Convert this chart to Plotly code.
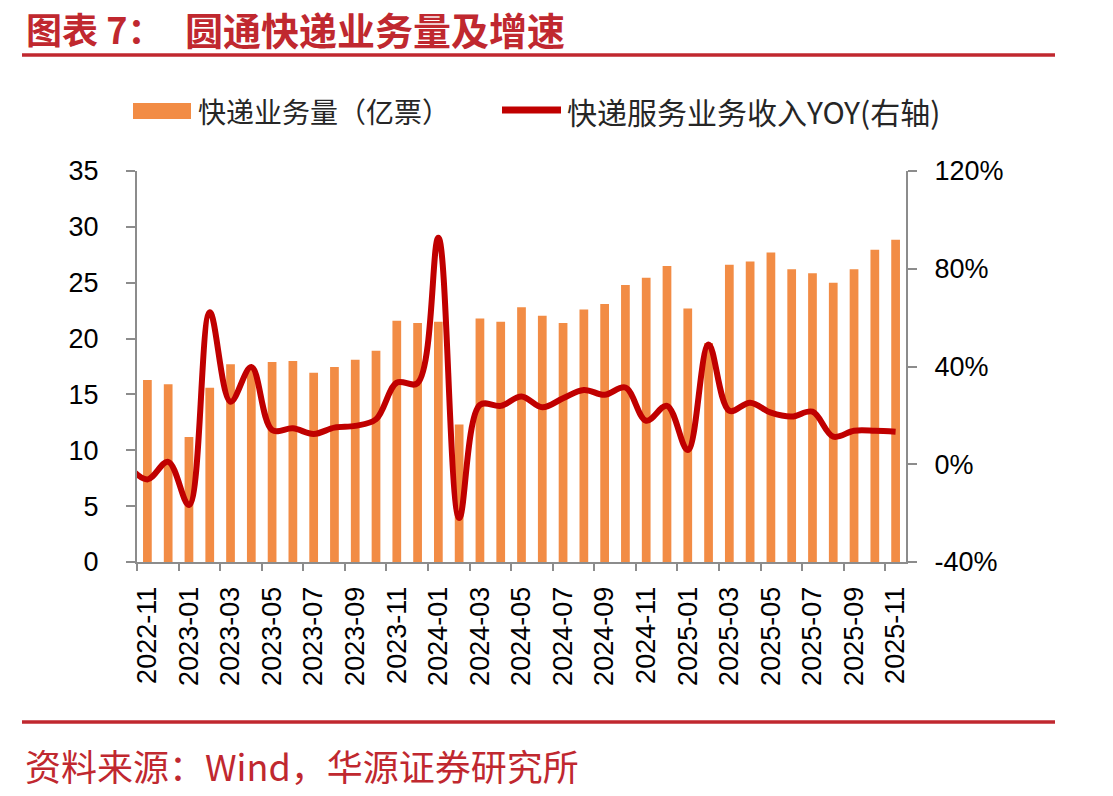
import plotly.graph_objects as go

months = ["2022-11", "2022-12",
          "2023-01", "2023-02", "2023-03", "2023-04", "2023-05", "2023-06",
          "2023-07", "2023-08", "2023-09", "2023-10", "2023-11", "2023-12",
          "2024-01", "2024-02", "2024-03", "2024-04", "2024-05", "2024-06",
          "2024-07", "2024-08", "2024-09", "2024-10", "2024-11", "2024-12",
          "2025-01", "2025-02", "2025-03", "2025-04", "2025-05", "2025-06",
          "2025-07", "2025-08", "2025-09", "2025-10", "2025-11"]

volume = [16.3, 15.9, 11.2, 15.6, 17.7, 17.4, 17.9, 18.0, 16.95, 17.45, 18.1, 18.9,
          21.6, 21.4, 21.5, 12.3, 21.8, 21.5, 22.8, 22.05, 21.4, 22.6, 23.1, 24.8,
          25.45, 26.5, 22.7, 19.6, 26.6, 26.9, 27.7, 26.2, 25.85, 25.0, 26.2, 27.95, 28.85]

# YoY (%) starts one month earlier (2022-10); that point is clipped by the plot area
yoy_prev = 0.0
yoy = [-6.2, 1.0, -16.7, 62.2, 25.6, 39.8, 14.0, 14.7, 12.4, 15.0, 15.7, 18.4,
       33.4, 33.2, 92.7, -22.0, 24.3, 23.9, 27.7, 23.3, 27.0, 30.4, 28.4, 31.4,
       17.8, 23.9, 5.8, 49.0, 21.9, 25.2, 21.1, 19.5, 21.5, 11.3, 13.7, 13.7, 13.3]

tick_labels = months[::2]

title_a = "图表 7："
title_b = "圆通快递业务量及增速"
legend_bar = "快递业务量（亿票）"
legend_line = "快递服务业务收入YOY(右轴)"
source = "资料来源：Wind，华源证券研究所"

W, H = 1113, 796
L, R, T, B = 137, 906, 171, 562
RED = "#C0282F"
GRAY = "#8C8C8C"
BAR = "#F28C45"
LINE = "#C00000"

def px(x):
    return (x - L) / (R - L)

def py(y):
    return (B - y) / (B - T)

idx = list(range(len(months)))

fig = go.Figure()
fig.add_trace(go.Bar(x=idx, y=volume, width=0.42, marker=dict(color=BAR, line=dict(width=0)),
                     name=legend_bar, showlegend=False))
fig.add_trace(go.Scatter(x=[-1] + idx, y=[yoy_prev] + yoy, yaxis="y2", mode="lines",
                         line=dict(color=LINE, width=6, shape="spline", smoothing=1.0),
                         name=legend_line, showlegend=False))
# invisible trace to activate tick-mark axis
fig.add_trace(go.Scatter(x=[0], y=[0], xaxis="x2", mode="markers",
                         marker=dict(opacity=0), showlegend=False, hoverinfo="skip"))

tickfont = dict(family="Liberation Sans, Arial, sans-serif", size=27, color="#000000")

fig.update_layout(
    width=W, height=H, autosize=False,
    margin=dict(l=L, r=W - R, t=T, b=H - B, pad=0),
    paper_bgcolor="white", plot_bgcolor="white",
    bargap=0.5,
    xaxis=dict(range=[-0.5, len(months) - 0.5], tickmode="array",
               tickvals=idx[::2], ticktext=tick_labels, tickangle=-90,
               ticks="", showline=True, linecolor=GRAY, linewidth=2,
               showgrid=False, zeroline=False, tickfont=tickfont,
               ticklabelstandoff=12),
    xaxis2=dict(range=[-0.5, len(months) - 0.5], overlaying="x", side="bottom",
                tickmode="array", tickvals=[i - 0.5 for i in idx[::2]],
                ticks="outside", ticklen=8, tickwidth=2, tickcolor=GRAY,
                showticklabels=False, showline=False, showgrid=False, zeroline=False),
    yaxis=dict(range=[0, 35], tickmode="array", tickvals=[0, 5, 10, 15, 20, 25, 30, 35],
               ticks="outside", ticklen=9, tickwidth=2, tickcolor=GRAY,
               showline=True, linecolor=GRAY, linewidth=2, showgrid=False,
               zeroline=False, tickfont=tickfont, ticklabelstandoff=22),
    yaxis2=dict(range=[-40, 120], overlaying="y", side="right", tickmode="array",
                tickvals=[-40, 0, 40, 80, 120], ticktext=["-40%", "0%", "40%", "80%", "120%"],
                ticks="outside", ticklen=9, tickwidth=2, tickcolor=GRAY,
                showline=True, linecolor=GRAY, linewidth=2, showgrid=False,
                zeroline=False, tickfont=tickfont, ticklabelstandoff=12),
)

shapes = [
    dict(type="line", xref="paper", yref="paper", x0=px(22), x1=px(1055), y0=py(55), y1=py(55),
         line=dict(color=RED, width=3.5)),
    dict(type="line", xref="paper", yref="paper", x0=px(22), x1=px(1055), y0=py(722), y1=py(722),
         line=dict(color=RED, width=3.5)),
    dict(type="rect", xref="paper", yref="paper", x0=px(133), x1=px(191), y0=py(119), y1=py(103),
         fillcolor=BAR, line=dict(width=0)),
    dict(type="line", xref="paper", yref="paper", x0=px(502), x1=px(561), y0=py(110), y1=py(110),
         line=dict(color=LINE, width=7)),
]
fig.update_layout(shapes=shapes)

cjk = "Noto Sans CJK SC, sans-serif"
annotations = [
    dict(text="<b>" + title_a + "</b>", xref="paper", yref="paper", x=px(24), y=py(28),
         xanchor="left", yanchor="middle", showarrow=False,
         font=dict(family=cjk, size=36, color=RED)),
    dict(text="<b>" + title_b + "</b>", xref="paper", yref="paper", x=px(183), y=py(28),
         xanchor="left", yanchor="middle", showarrow=False,
         font=dict(family=cjk, size=38, color=RED)),
    dict(text=legend_bar, xref="paper", yref="paper", x=px(196), y=py(111),
         xanchor="left", yanchor="middle", showarrow=False,
         font=dict(family=cjk, size=28, color="#262626")),
    dict(text=legend_line, xref="paper", yref="paper", x=px(565), y=py(111),
         xanchor="left", yanchor="middle", showarrow=False,
         font=dict(family=cjk, size=30, color="#262626")),
    dict(text=source, xref="paper", yref="paper", x=px(23), y=py(765),
         xanchor="left", yanchor="middle", showarrow=False,
         font=dict(family=cjk, size=36, color=RED)),
]
fig.update_layout(annotations=annotations)

fig.write_html("out.html")
